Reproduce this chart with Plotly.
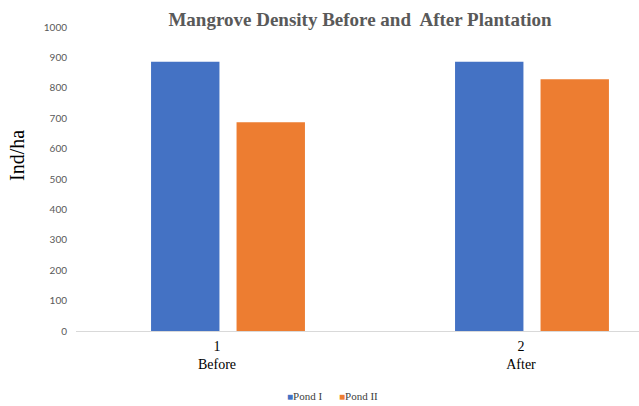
import plotly.graph_objects as go

# Stand density (individuals per hectare) for each pond, before and after planting
categories = ["Before", "After"]
tick_labels = ["1<br>Before", "2<br>After"]
series_names = ["Pond I", "Pond II"]
pond_1 = [886, 886]
pond_2 = [687, 828]
y_ticks = [0, 100, 200, 300, 400, 500, 600, 700, 800, 900, 1000]
colors = ["#4472C4", "#ED7D31"]

W, H = 639, 406
plot_left, plot_top, plot_bottom = 76, 27, 331
plot_w, plot_h = W - plot_left, plot_bottom - plot_top


def px_x(px):
    return (px - plot_left) / plot_w


def px_y(py):
    return (plot_bottom - py) / plot_h


fig = go.Figure()
for name, values, color in zip(series_names, [pond_1, pond_2], colors):
    fig.add_trace(go.Bar(name=name, x=categories, y=values, marker_color=color,
                         marker_line_width=0, showlegend=False))

# Compact legend: small coloured square right next to each series name
legend_starts = [285, 337]
for name, color, start in zip(series_names, colors, legend_starts):
    fig.add_annotation(
        text=f'<span style="color:{color};font-size:10px">■</span>{name}',
        xref="paper", yref="paper", x=px_x(start), y=px_y(396),
        xanchor="left", yanchor="middle", showarrow=False,
        font=dict(family="Liberation Serif", size=11, color="#404040"),
    )

# Vertical axis title
fig.add_annotation(
    text="Ind/ha", xref="paper", yref="paper", x=px_x(17), y=px_y(156),
    xanchor="center", yanchor="middle", textangle=-90, showarrow=False,
    font=dict(family="Liberation Serif", size=20, color="#000000"),
)

fig.update_layout(
    width=W, height=H,
    margin=dict(l=plot_left, r=0, t=plot_top, b=H - plot_bottom, pad=0),
    paper_bgcolor="white", plot_bgcolor="white",
    barmode="group", bargap=0.4375, bargroupgap=0.2,
    title=dict(
        text="<b>Mangrove Density Before and  After Plantation</b>",
        x=360 / W, xanchor="center", y=1 - 19 / H, yanchor="middle",
        font=dict(family="Liberation Serif", size=19, color="#595959"),
    ),
    showlegend=False,
)

fig.update_xaxes(
    type="category", tickmode="array", tickvals=categories, ticktext=tick_labels,
    range=[-0.5, 1.352], showgrid=False, zeroline=False,
    showline=True, linecolor="#D9D9D9", linewidth=1, ticks="",
    tickfont=dict(family="Liberation Serif", size=14, color="#000000"),
    ticklabelshift=-11, ticklabelstandoff=2,
)
fig.update_yaxes(
    range=[0, 1000], tickmode="array", tickvals=y_ticks,
    showgrid=False, zeroline=False, showline=False, ticks="",
    ticklabelstandoff=8,
    tickfont=dict(family="Lato", size=10, color="#595959"),
)

fig.write_html("out.html")
